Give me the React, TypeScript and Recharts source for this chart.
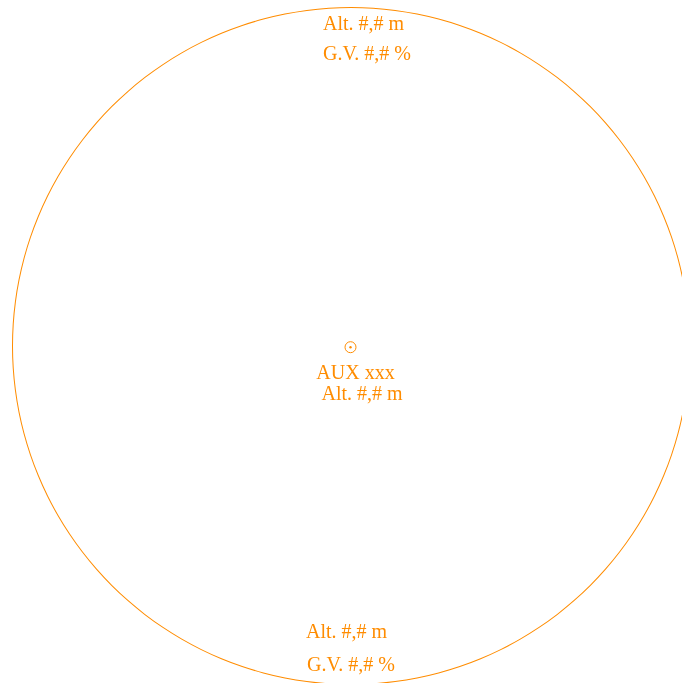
import { PieChart, Pie, Cell } from "recharts"

const ring = [{ name: "range", value: 1 }]
const topLabels = ["Alt. #,# m", "G.V. #,# %"]
const centerLabels = ["AUX xxx", "Alt. #,# m"]
const bottomLabels = ["Alt. #,# m", "G.V. #,# %"]

const ORANGE = "#ff8c00"
const CX = 351
const CY = 346
const R = 339

const font = { fontFamily: "'Liberation Serif', 'Times New Roman', serif", fontSize: 20 }

function Labels() {
  return (
    <g fill={ORANGE} style={font}>
      {/* top of the range circle */}
      <text x={CX + 12.5} y={CY - 316} textAnchor="middle">{topLabels[0]}</text>
      <text x={CX + 16} y={CY - 286} textAnchor="middle">{topLabels[1]}</text>

      {/* station marker */}
      <circle cx={CX - 0.5} cy={CY + 1.2} r={5.5} fill="none" stroke={ORANGE} strokeWidth={1} />
      <circle cx={CX - 0.5} cy={CY + 1.2} r={1.2} fill={ORANGE} />
      <text x={CX + 4.5} y={CY + 32.5} textAnchor="middle">{centerLabels[0]}</text>
      <text x={CX + 11} y={CY + 53.5} textAnchor="middle">{centerLabels[1]}</text>

      {/* bottom of the range circle */}
      <text x={CX - 4.5} y={CY + 292} textAnchor="middle">{bottomLabels[0]}</text>
      <text x={CX} y={CY + 324.7} textAnchor="middle">{bottomLabels[1]}</text>
    </g>
  )
}

export default function App() {
  return (
    <div style={{ position: "fixed", left: 0, top: 0, width: 682, height: 683, overflow: "hidden" }}>
      <PieChart width={682} height={683} margin={{ top: 0, right: 0, bottom: 0, left: 0 }}>
        <Pie
          data={ring}
          dataKey="value"
          cx={CX}
          cy={CY}
          innerRadius={R - 1}
          outerRadius={R}
          startAngle={90}
          endAngle={450}
          stroke="none"
          isAnimationActive={false}
        >
          {ring.map((d) => (
            <Cell key={d.name} fill={ORANGE} />
          ))}
        </Pie>
        <Labels />
      </PieChart>
    </div>
  )
}
